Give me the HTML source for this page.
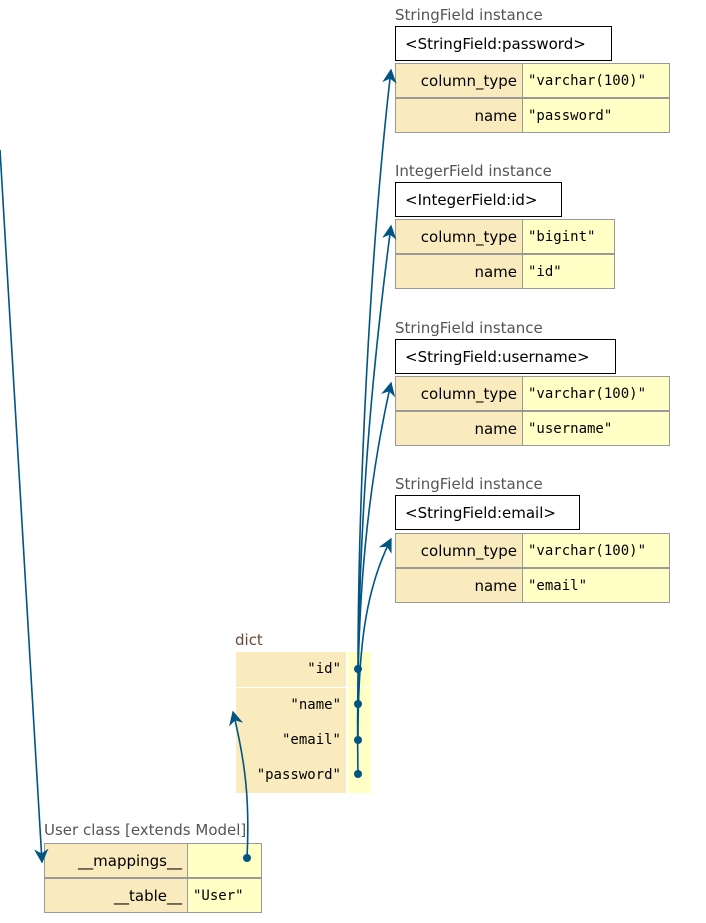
<!DOCTYPE html>
<html><head><meta charset="utf-8"><style>
body{margin:0;width:706px;height:923px;position:relative;background:#fff;font-family:"DejaVu Sans","Liberation Sans",sans-serif;overflow:hidden}
.t{position:absolute;font-size:15px;color:#555;white-space:nowrap}
.hd{position:absolute;height:35px;border:1px solid #000;box-sizing:border-box;background:#fff;font-size:15px;line-height:34px;padding-left:9px;white-space:nowrap}
.c{position:absolute;box-sizing:border-box;height:35px;line-height:34px;font-size:15px;white-space:nowrap}
.k{background:#FAEBBF;text-align:right;padding-right:5px}
.v{background:#FFFFC6;padding-left:5px;font-family:"DejaVu Sans Mono","Liberation Mono",monospace;font-size:14px}
.b{border:1px solid #999}
.m{font-family:"DejaVu Sans Mono","Liberation Mono",monospace;font-size:14px}
</style></head><body>

<!-- field instances -->
<div class="t" style="left:395px;top:6px">StringField instance</div>
<div class="hd" style="left:395px;top:26px;width:217px">&lt;StringField:password&gt;</div>
<div class="c k b" style="left:395px;top:63px;width:128px">column_type</div><div class="c v b" style="left:522px;top:63px;width:148px">"varchar(100)"</div>
<div class="c k b" style="left:395px;top:98px;width:128px">name</div><div class="c v b" style="left:522px;top:98px;width:148px">"password"</div>

<div class="t" style="left:395px;top:162px">IntegerField instance</div>
<div class="hd" style="left:395px;top:182px;width:167px">&lt;IntegerField:id&gt;</div>
<div class="c k b" style="left:395px;top:219px;width:128px">column_type</div><div class="c v b" style="left:522px;top:219px;width:93px">"bigint"</div>
<div class="c k b" style="left:395px;top:254px;width:128px">name</div><div class="c v b" style="left:522px;top:254px;width:93px">"id"</div>

<div class="t" style="left:395px;top:319px">StringField instance</div>
<div class="hd" style="left:395px;top:339px;width:221px">&lt;StringField:username&gt;</div>
<div class="c k b" style="left:395px;top:376px;width:128px">column_type</div><div class="c v b" style="left:522px;top:376px;width:148px">"varchar(100)"</div>
<div class="c k b" style="left:395px;top:411px;width:128px">name</div><div class="c v b" style="left:522px;top:411px;width:148px">"username"</div>

<div class="t" style="left:395px;top:475px">StringField instance</div>
<div class="hd" style="left:395px;top:495px;width:185px">&lt;StringField:email&gt;</div>
<div class="c k b" style="left:395px;top:533px;width:128px">column_type</div><div class="c v b" style="left:522px;top:533px;width:148px">"varchar(100)"</div>
<div class="c k b" style="left:395px;top:568px;width:128px">name</div><div class="c v b" style="left:522px;top:568px;width:148px">"email"</div>

<!-- dict -->
<div class="t" style="left:235px;top:631px;color:#6b4a3a">dict</div>
<div class="c k m" style="left:236px;top:652px;width:110px">"id"</div><div class="c v" style="left:348px;top:652px;width:23px"></div>
<div class="c k m" style="left:236px;top:688px;width:110px">"name"</div><div class="c v" style="left:348px;top:688px;width:23px"></div>
<div class="c k m" style="left:236px;top:723px;width:110px">"email"</div><div class="c v" style="left:348px;top:723px;width:23px"></div>
<div class="c k m" style="left:236px;top:758px;width:110px">"password"</div><div class="c v" style="left:348px;top:758px;width:23px"></div>

<!-- user class -->
<div class="t" style="left:44px;top:821px">User class [extends Model]</div>
<div class="c k b" style="left:44px;top:843px;width:144px">__mappings__</div><div class="c v b" style="left:187px;top:843px;width:75px"></div>
<div class="c k b" style="left:44px;top:878px;width:144px">__table__</div><div class="c v b" style="left:187px;top:878px;width:75px">"User"</div>

<svg width="706" height="923" style="position:absolute;left:0;top:0" fill="none" stroke="#005583" stroke-width="1.6">
<defs><marker id="a" viewBox="0 0 10 10" refX="9" refY="5" markerWidth="9" markerHeight="9" orient="auto-start-reverse"><path d="M0,0 L10,5 L0,10 L3,5 z" fill="#005583" stroke="none"/></marker></defs>
<path d="M358,669 C358,500 370,250 391,70" marker-end="url(#a)"/>
<path d="M358,704 C358,550 368,400 391,226" marker-end="url(#a)"/>
<path d="M358,774 C356,650 360,520 391,383" marker-end="url(#a)"/>
<path d="M358,740 C358,650 365,590 391,539" marker-end="url(#a)"/>
<path d="M0,150 C15,400 30,650 42,862" marker-end="url(#a)"/>
<path d="M247,858 C250,800 245,760 233,712" marker-end="url(#a)"/>
<g fill="#005583" stroke="none">
<circle cx="358" cy="669" r="4"/><circle cx="358" cy="704" r="4"/><circle cx="358" cy="740" r="4"/><circle cx="358" cy="774" r="4"/><circle cx="247" cy="858" r="4"/>
</g>
</svg>
</body></html>
